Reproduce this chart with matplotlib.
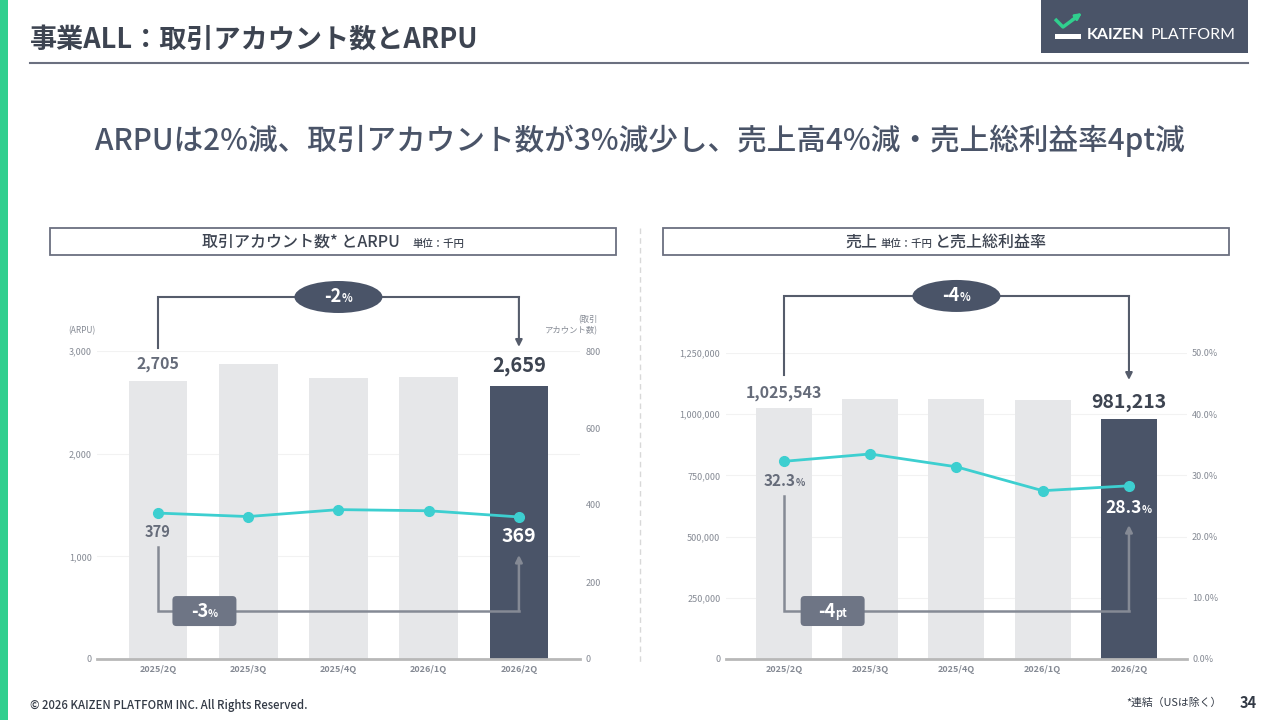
import numpy as np
import matplotlib
matplotlib.use('Agg')
import matplotlib.pyplot as plt
import matplotlib.transforms as mtransforms
from matplotlib.patches import Rectangle, Ellipse, FancyBboxPatch
from matplotlib.offsetbox import TextArea, HPacker, AnnotationBbox
from matplotlib.ticker import FuncFormatter

plt.rcParams['font.family'] = ['Noto Sans CJK JP', 'DejaVu Sans']

# data
quarters = ['2025/2Q', '2025/3Q', '2025/4Q', '2026/1Q', '2026/2Q']
arpu = [2705, 2870, 2735, 2745, 2659]          # 千円
accounts = [379, 370, 388, 385, 369]
sales = [1025543, 1061000, 1063000, 1060000, 981213]   # 千円
gross_margin = [32.3, 33.5, 31.4, 27.5, 28.3]  # %

arpu_ticks = [0, 1000, 2000, 3000]
account_ticks = [0, 200, 400, 600, 800]
sales_ticks = [0, 250000, 500000, 750000, 1000000, 1250000]
margin_ticks = [0, 10, 20, 30, 40, 50]

DARK = '#4a5468'
LIGHT_BAR = '#e6e7e9'
CYAN = '#3dcfd0'
TEXT = '#3d4451'
GRAY = '#666c7a'
TICK = '#858a94'
BRACKET = '#555c6b'
BRACKET2 = '#858a95'

fig = plt.figure(figsize=(12.8, 7.2), dpi=100)

# page decoration in pixel coordinates
deco = fig.add_axes([0, 0, 1, 1])
deco.set_xlim(0, 1280)
deco.set_ylim(720, 0)
deco.axis('off')


def mixed(parts, color, weight='bold', sep=0):
    areas = [TextArea(s, textprops=dict(size=sz, color=color, weight=weight))
             for s, sz in parts]
    return HPacker(children=areas, align='baseline', pad=0, sep=sep)


def put(ax, box, xy):
    ab = AnnotationBbox(box, xy, xycoords='data', frameon=False,
                        box_alignment=(0.5, 0.5), pad=0,
                        annotation_clip=False, zorder=12)
    ax.add_artist(ab)


deco.add_patch(Rectangle((0, 0), 8, 720, color='#30cf8e', lw=0))
deco.text(30, 40, '事業ALL：取引アカウント数とARPU', fontsize=19.5,
          weight='bold', color=TEXT, va='center', ha='left')
deco.plot([30, 1248], [63, 63], color='#6b7080', lw=1.5)

# logo
deco.add_patch(Rectangle((1041, 0), 207, 53, color=DARK, lw=0))
deco.plot([1055, 1063, 1078], [19, 27, 16], color='#30cf8e', lw=2.5,
          solid_capstyle='butt')
deco.annotate('', xy=(1082, 13), xytext=(1072, 20),
              arrowprops=dict(arrowstyle='-|>', color='#30cf8e', lw=2,
                              mutation_scale=9, shrinkA=0, shrinkB=0))
deco.add_patch(Rectangle((1055, 34), 26, 5, color='white', lw=0))
logo = HPacker(children=[
    TextArea('KAIZEN', textprops=dict(size=11.5, color='white', weight='bold', family='Lato')),
    TextArea('PLATFORM', textprops=dict(size=11.5, color='white', family='Lato'))],
    align='baseline', pad=0, sep=4)
deco.add_artist(AnnotationBbox(logo, (1087, 35), xycoords='data', frameon=False,
                               box_alignment=(0, 0.5), pad=0))

deco.text(640, 141, 'ARPUは2%減、取引アカウント数が3%減少し、売上高4%減・売上総利益率4pt減',
          fontsize=21.3, color=DARK, ha='center', va='center', weight='medium')

# panel headers
for x0 in (50, 663):
    deco.add_patch(Rectangle((x0, 228), 566, 27, fill=False, ec='#6b7080', lw=1.3))
put(deco, mixed([('取引アカウント数* とARPU', 11.5), ('単位：千円', 7.5)], TEXT, 'medium', 9),
    (333, 242))
put(deco, mixed([('売上', 11.5), ('単位：千円', 7.5), ('と売上総利益率', 11.5)], TEXT,
                'medium', 2), (946, 242))
deco.plot([640, 640], [228, 662], color='#d8d8d8', lw=1, ls=(0, (4, 3)))

# footer
deco.text(30, 705, '© 2026 KAIZEN PLATFORM INC. All Rights Reserved.', fontsize=8.2,
          weight='medium', color='#333a46', va='center')
deco.text(1222, 703, '*連結（USは除く）', fontsize=7.8, color='#333a46',
          va='center', ha='right')
deco.text(1240, 703, '34', fontsize=10.5, weight='bold', color='#333a46',
          va='center', ha='left')


def at(ax, x, y):
    # pixel-sized shapes (inches at dpi 100) anchored on a data point
    return fig.dpi_scale_trans + mtransforms.ScaledTranslation(x, y, ax.transData)


def chart(rect, xlim, bars, line, ylim, yticks, yfmt, y2lim, y2ticks, y2fmt):
    ax = fig.add_axes(rect)
    x = np.arange(len(quarters))
    colors = [LIGHT_BAR] * (len(quarters) - 1) + [DARK]
    ax.bar(x, bars, width=0.65, color=colors, zorder=2)
    ax.set_ylim(*ylim)
    ax.set_yticks(yticks)
    ax.yaxis.set_major_formatter(FuncFormatter(yfmt))
    ax.set_xticks(x)
    ax.set_xticklabels(quarters, fontweight='bold')
    ax.yaxis.grid(True, color='#f2f2f2', lw=0.8, zorder=0)
    ax.set_axisbelow(True)
    for s in ('top', 'left', 'right'):
        ax.spines[s].set_visible(False)
    ax.spines['bottom'].set_color('#b8b8b8')
    ax.spines['bottom'].set_linewidth(2)
    ax.spines['bottom'].set_zorder(4)
    ax.tick_params(axis='both', length=0, labelsize=6.5, labelcolor=TICK)
    ax.tick_params(axis='y', pad=4)
    ax.tick_params(axis='x', pad=4)

    ax2 = ax.twinx()
    ax2.plot(x, line, color=CYAN, lw=2, marker='o', ms=7, zorder=3)
    ax2.set_ylim(*y2lim)
    ax2.set_yticks(y2ticks)
    ax2.yaxis.set_major_formatter(FuncFormatter(y2fmt))
    ax2.tick_params(axis='y', length=0, labelsize=6.5, labelcolor=TICK, pad=4)
    for s in ax2.spines.values():
        s.set_visible(False)
    ax.set_xlim(*xlim)
    return ax, ax2


def brackets(ax, y_top, y_start, y_tip, ell_y, y_bot, b_start, b_tip, box_x,
             top_label, bot_label):
    # top bracket first -> last bar
    ax.plot([0, 0, 4], [y_start, y_top, y_top], color=BRACKET, lw=1.5,
            clip_on=False, zorder=6, solid_joinstyle='miter')
    ax.annotate('', xy=(4, y_tip), xytext=(4, y_top),
                arrowprops=dict(arrowstyle='-|>', color=BRACKET, lw=1.5,
                                mutation_scale=10, shrinkA=0, shrinkB=0),
                annotation_clip=False, zorder=6)
    ax.add_artist(Ellipse((0, 0), 0.88, 0.32, transform=at(ax, 2, ell_y),
                          fc=DARK, ec='none', zorder=7, clip_on=False))
    put(ax, mixed(top_label, 'white'), (2, ell_y))
    # bottom bracket for the line series
    ax.plot([0, 0, 4], [b_start, y_bot, y_bot], color=BRACKET2, lw=1.8,
            clip_on=False, zorder=6, solid_joinstyle='miter')
    ax.annotate('', xy=(4, b_tip), xytext=(4, y_bot),
                arrowprops=dict(arrowstyle='-|>', color=BRACKET2, lw=1.8,
                                mutation_scale=10, shrinkA=0, shrinkB=0),
                annotation_clip=False, zorder=6)
    ax.add_artist(FancyBboxPatch((-0.32, -0.15), 0.64, 0.30,
                                 boxstyle='round,pad=0,rounding_size=0.04',
                                 transform=at(ax, box_x, y_bot),
                                 fc='#6e7585', ec='none', zorder=7, clip_on=False))
    put(ax, mixed(bot_label, 'white'), (box_x, y_bot))


# left chart: ARPU and accounts
axL, axL2 = chart([97.4 / 1280, 61 / 720, 482.6 / 1280, 308 / 720], (-0.671, 4.677),
                  arpu, accounts, (0, 3000), arpu_ticks, lambda v, p: f'{v:,.0f}',
                  (0, 800), account_ticks, lambda v, p: f'{v:,.0f}')
brackets(axL, 3526, 3029, 3040, 3526, 467, 1091, 1013, 0.515,
         [('-2', 13), ('%', 8)], [('-3', 13), ('%', 7.5)])
axL.text(0, 2873, f'{arpu[0]:,}', ha='center', va='center', fontsize=11.5,
         weight='bold', color=GRAY, zorder=8)
axL.text(4, 2854, f'{arpu[-1]:,}', ha='center', va='center', fontsize=14.5,
         weight='bold', color=TEXT, zorder=8)
axL2.text(0, 330, f'{accounts[0]}', ha='center', va='center', fontsize=10.5,
          weight='bold', color=GRAY, zorder=8)
axL2.text(4, 317, f'{accounts[-1]}', ha='center', va='center', fontsize=14,
          weight='bold', color='white', zorder=8)
axL.annotate('(ARPU)', xy=(0, 1), xycoords='axes fraction', xytext=(-11, 14.5),
             textcoords='offset points', ha='center', va='center', fontsize=6,
             color=TICK)
axL.annotate('(取引\nアカウント数)', xy=(1, 1), xycoords='axes fraction',
             xytext=(13, 18.5), textcoords='offset points', ha='right',
             va='center', fontsize=6, color=TICK, linespacing=1.3,
             multialignment='right')

# right chart: sales and gross margin
axR, axR2 = chart([726 / 1280, 61 / 720, 460.5 / 1280, 306 / 720], (-0.671, 4.667),
                  sales, gross_margin, (0, 1250000), sales_ticks,
                  lambda v, p: f'{v:,.0f}', (0, 50), margin_ticks,
                  lambda v, p: f'{v:.1f}%')
brackets(axR, 1483000, 1160000, 1140000, 1483000, 196000, 666000, 547000, 0.565,
         [('-4', 13), ('%', 8)], [('-4', 13), ('pt', 8)])
axR.text(0, 1086600, f'{sales[0]:,}', ha='center', va='center', fontsize=11.5,
         weight='bold', color=GRAY, zorder=8)
axR.text(4, 1049800, f'{sales[-1]:,}', ha='center', va='center', fontsize=14,
         weight='bold', color=TEXT, zorder=8)
put(axR2, mixed([(f'{gross_margin[0]:.1f}', 11), ('%', 7)], GRAY), (0, 29.1))
put(axR2, mixed([(f'{gross_margin[-1]:.1f}', 12.5), ('%', 7.5)], 'white'), (4, 24.7))

fig.savefig('out.png', dpi=100)
